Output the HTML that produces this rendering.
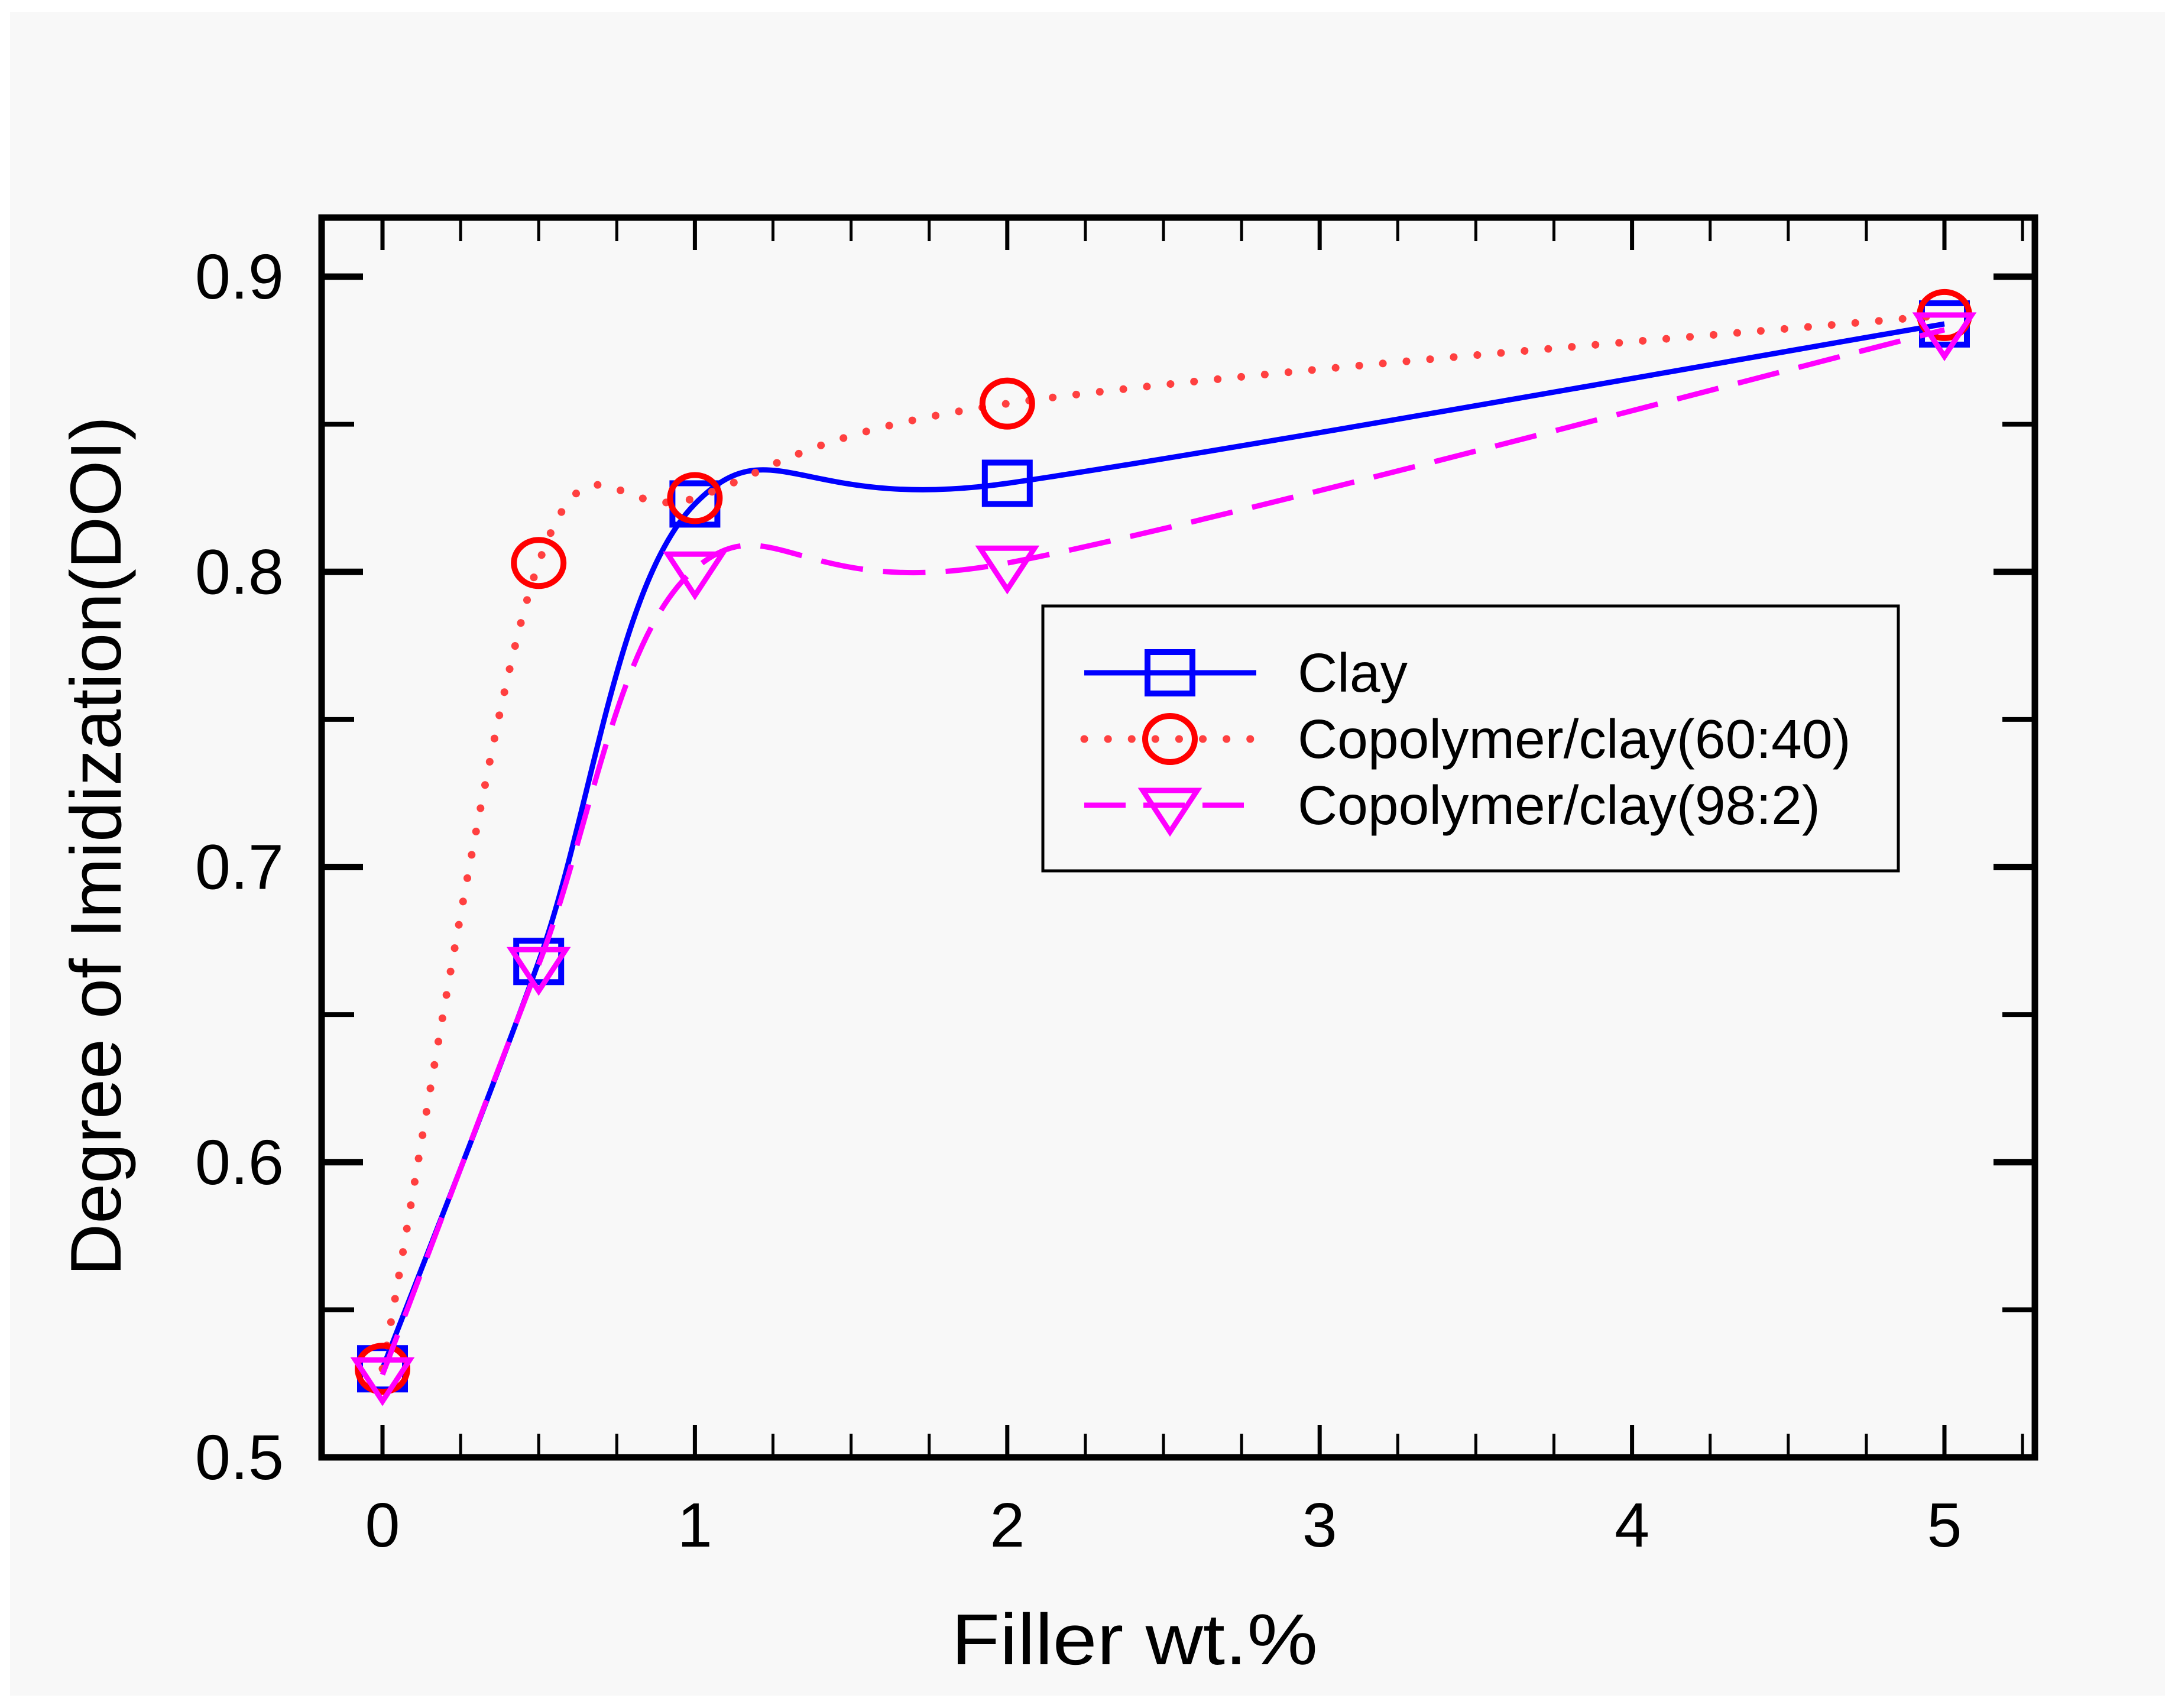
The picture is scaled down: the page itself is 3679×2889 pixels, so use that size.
<!DOCTYPE html>
<html><head><meta charset="utf-8"><style>
html,body{margin:0;padding:0;background:#fff;}
svg{display:block;}
text{font-family:"Liberation Sans",Arial,sans-serif;fill:#000;}
</style></head><body>
<svg id="chart" width="3679" height="2889" viewBox="0 0 3679 2889" xmlns="http://www.w3.org/2000/svg">
<rect x="17" y="20" width="3645" height="2848" fill="#f8f8f8"/>
<g id="ticks"></g>
<g id="series"></g>
<rect x="544" y="368" width="2898" height="2097" fill="none" stroke="#000" stroke-width="11"/>
<g id="labels"></g>
<text x="1919" y="2815" font-size="122" text-anchor="middle" textLength="620" lengthAdjust="spacingAndGlyphs">Filler wt.%</text>
<text transform="translate(204,1431) rotate(-90)" font-size="122" text-anchor="middle" textLength="1454" lengthAdjust="spacingAndGlyphs">Degree of Imidization(DOI)</text>
<g>
<rect x="1764" y="1025" width="1447" height="448" fill="#f8f8f8" stroke="#000" stroke-width="5"/>
<g id="legend-items"></g>
</g>
</svg>
<script>
const xCats = [0, 0.5, 1, 2, 5];
const clayVals = [0.530, 0.668, 0.823, 0.830, 0.884];
const cop6040Vals = [0.530, 0.803, 0.825, 0.857, 0.887];
const cop982Vals = [0.528, 0.667, 0.801, 0.803, 0.882];
const seriesNames = ["Clay", "Copolymer/clay(60:40)", "Copolymer/clay(98:2)"];
const xTickLabels = ["0", "1", "2", "3", "4", "5"];
const yTickLabels = ["0.5", "0.6", "0.7", "0.8", "0.9"];

const NS = "http://www.w3.org/2000/svg";
const X0 = 647, XU = 528.4, Y0 = 2465, YU = 4992.5;
const L = 544, R = 3442, T = 368, B = 2465;
function sx(v){ return X0 + v * XU; }
function sy(v){ return Y0 - (v - 0.5) * YU; }
function mk(tag, attrs, parent){
  const e = document.createElementNS(NS, tag);
  for (const k in attrs) e.setAttribute(k, attrs[k]);
  parent.appendChild(e);
  return e;
}
const ticks = document.getElementById("ticks");
const labels = document.getElementById("labels");
for (let i = 0; i <= 22; i++) {
  const v = i * 0.25;
  const x = sx(v);
  if (x > R) break;
  const major = i % 4 === 0;
  const len = major ? 55 : 40;
  const w = major ? 7 : 5;
  const t1 = mk("line", {x1:x, y1:B, x2:x, y2:B-len, stroke:"#000", "stroke-width":w}, ticks);
  
  
  const t2 = mk("line", {x1:x, y1:T, x2:x, y2:T+len, stroke:"#000", "stroke-width":w}, ticks);
  
  
}
xTickLabels.forEach((s) => {
  const t = mk("text", {x:sx(+s), y:2616, "font-size":"106", "text-anchor":"middle"}, labels);
  t.textContent = s;
  
  
});
for (let i = 0; i <= 8; i++) {
  const v = 0.5 + i * 0.05;
  const y = sy(v);
  const major = i % 2 === 0;
  const len = major ? 70 : 55;
  const w = major ? 11 : 8;
  const t1 = mk("line", {x1:L, y1:y, x2:L+len, y2:y, stroke:"#000", "stroke-width":w}, ticks);
  
  
  const t2 = mk("line", {x1:R, y1:y, x2:R-len, y2:y, stroke:"#000", "stroke-width":w}, ticks);
  
  
}
yTickLabels.forEach(s => {
  const t = mk("text", {x:480, y:sy(+s)+37, "font-size":"108", "text-anchor":"end"}, labels);
  t.textContent = s;
  
  
});

function curve(xs, ys){
  const P = xs.map((x, i) => [sx(x), sy(ys[i])]);
  let d = "M" + P[0][0].toFixed(1) + "," + P[0][1].toFixed(1);
  for (let i = 0; i < P.length - 1; i++) {
    const p0 = P[Math.max(0, i-1)], p1 = P[i], p2 = P[i+1], p3 = P[Math.min(P.length-1, i+2)];
    const c1 = [p1[0] + (p2[0]-p0[0])/6, p1[1] + (p2[1]-p0[1])/6];
    const c2 = [p2[0] - (p3[0]-p1[0])/6, p2[1] - (p3[1]-p1[1])/6];
    d += " C" + c1[0].toFixed(1) + "," + c1[1].toFixed(1) + " " + c2[0].toFixed(1) + "," + c2[1].toFixed(1) + " " + p2[0].toFixed(1) + "," + p2[1].toFixed(1);
  }
  return d;
}
const seriesG = document.getElementById("series");
const styles = [
  {color:"#0000ff", dash:null, cap:"butt", marker:"square", width:9},
  {color:"#ff4040", dash:"0.1 40", cap:"round", marker:"circle", mcolor:"#ff0000", width:13},
  {color:"#ff00ff", dash:"72 34", cap:"butt", marker:"tri", width:9}
];
const allVals = [clayVals, cop6040Vals, cop982Vals];
function marker(type, cx, cy, color, parent){
  let e;
  if (type === "square") e = mk("rect", {x:cx-38, y:cy-35, width:76, height:70, fill:"none", stroke:color, "stroke-width":10}, parent);
  else if (type === "circle") e = mk("ellipse", {cx:cx, cy:cy, rx:42, ry:39, fill:"none", stroke:color, "stroke-width":10}, parent);
  else e = mk("polygon", {points:`${cx-46},${cy-25} ${cx+46},${cy-25} ${cx},${cy+45}`, fill:"none", stroke:color, "stroke-width":9}, parent);
  return e;
}
allVals.forEach((vals, si) => {
  const st = styles[si];
  const g = mk("g", {}, seriesG);
  
  
  const p = mk("path", {d:curve(xCats, vals), fill:"none", stroke:st.color, "stroke-width":st.width, "stroke-linecap":st.cap}, g);
  if (st.dash) p.setAttribute("stroke-dasharray", st.dash);
  
  
  xCats.forEach((x, i) => {
    const m = marker(st.marker, sx(x), sy(vals[i]), st.mcolor || st.color, g);
    
    
  });
});
const lg = document.getElementById("legend-items");
const rowY = [1138, 1250, 1362];
seriesNames.forEach((name, i) => {
  const st = styles[i];
  const g = mk("g", {}, lg);
  
  
  const ln = mk("line", {x1:1834, y1:rowY[i], x2:2125, y2:rowY[i], stroke:st.color, "stroke-width":st.width, "stroke-linecap":st.cap}, g);
  if (st.dash) ln.setAttribute("stroke-dasharray", i === 2 ? "70 30" : st.dash);
  
  
  const m = marker(st.marker, 1979, rowY[i], st.mcolor || st.color, g);
  
  
  const t = mk("text", {x:2195, y:rowY[i]+32, "font-size":"93"}, g);
  t.textContent = name;
  
  
});
</script>
</body></html>
